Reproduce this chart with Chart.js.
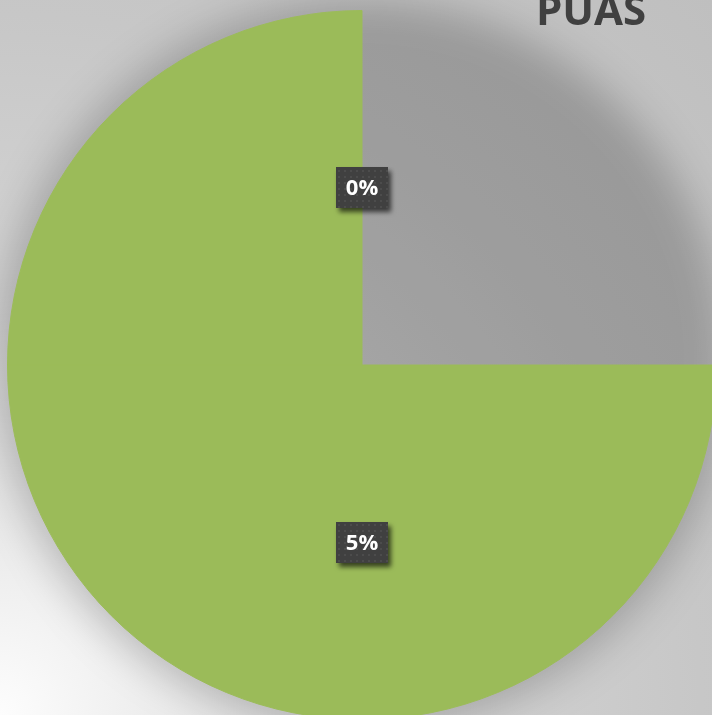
<!DOCTYPE html>
<html>
<head>
<meta charset="utf-8">
<script src="https://cdn.jsdelivr.net/npm/chart.js@4.4.1/dist/chart.umd.min.js"></script>
<style>
    html, body { margin: 0; padding: 0; width: 712px; height: 715px; overflow: hidden; }
    body {
        background: radial-gradient(circle farthest-corner at 0% 100%,
            #fdfdfd 0px, #e8e8e8 200px, #d4d4d4 420px, #c7c7c7 700px, #bfbfbf 1009px);
    }
    #wrap { position: absolute; left: 0; top: 0; width: 760px; height: 760px; }
</style>
</head>
<body>
<div id="wrap"><canvas id="puasChart"></canvas></div>
<script>
/* ###################### DATOS ###################### */
const tituloGrafico = "PUAS";
const categorias = ["Categoría 1", "Categoría 2", "Categoría 3", "Categoría 4"];
const valores = [0, 25, 50, 25];
const etiquetas = ["0%", "", "5%", ""];
const colores = ["#9bbb59", "rgba(0,0,0,0)", "#9bbb59", "#9bbb59"];

Chart.defaults.font.family = "'Open Sans', 'DejaVu Sans', sans-serif";

// patron punteado de las cajas de etiqueta
const tile = document.createElement("canvas");
tile.width = 6;
tile.height = 6;
const tctx = tile.getContext("2d");
tctx.fillStyle = "#404040";
tctx.fillRect(0, 0, 6, 6);
tctx.fillStyle = "#4c4c4c";
tctx.fillRect(2, 2, 2, 2);

// sombra difusa del pastel completo
const sombraPlugin = {
    id: "sombra",
    beforeDatasetsDraw(chart) {
        const ctx = chart.ctx;
        const meta = chart.getDatasetMeta(0);
        ctx.save();
        ctx.filter = "blur(20px)";
        ctx.fillStyle = "rgba(0,0,0,0.21)";
        ctx.beginPath();
        meta.data.forEach((arc) => {
            const p = arc.getProps(["x", "y", "startAngle", "endAngle", "outerRadius"], true);
            if (p.endAngle > p.startAngle) {
                ctx.moveTo(p.x, p.y);
                ctx.arc(p.x, p.y, p.outerRadius * 1.03, p.startAngle, p.endAngle);
                ctx.closePath();
            }
        });
        ctx.fill();
        ctx.restore();
    },
};

// etiquetas de porcentaje en cajas oscuras
const etiquetasPlugin = {
    id: "etiquetas",
    afterDatasetsDraw(chart) {
        const ctx = chart.ctx;
        const meta = chart.getDatasetMeta(0);
        const patron = ctx.createPattern(tile, "repeat");
        ctx.save();
        ctx.font = "bold 22px 'Open Sans'";
        meta.data.forEach((arc, i) => {
            const texto = etiquetas[i];
            if (!texto) return;
            const p = arc.getProps(["x", "y", "startAngle", "endAngle", "outerRadius"], true);
            const medio = (p.startAngle + p.endAngle) / 2;
            const cx = p.x + Math.cos(medio) * p.outerRadius * 0.5;
            const cy = p.y + Math.sin(medio) * p.outerRadius * 0.5;
            const w = ctx.measureText(texto).width + 20;
            const h = 41;
            ctx.save();
            ctx.shadowColor = "rgba(0,0,0,0.65)";
            ctx.shadowBlur = 5;
            ctx.shadowOffsetX = 3;
            ctx.shadowOffsetY = 4;
            ctx.fillStyle = patron;
            ctx.fillRect(Math.round(cx - w / 2), Math.round(cy - h / 2), Math.round(w), h);
            ctx.restore();
            ctx.fillStyle = "#ffffff";
            ctx.textAlign = "center";
            ctx.textBaseline = "middle";
            ctx.fillText(texto, cx, cy + 1);
        });
        ctx.restore();
    },
};

// titulo arriba a la derecha (recortado por el borde superior)
const tituloPlugin = {
    id: "titulo",
    afterDraw(chart) {
        const ctx = chart.ctx;
        ctx.save();
        ctx.font = "bold 42px 'Open Sans'";
        ctx.fillStyle = "#404040";
        ctx.textAlign = "center";
        ctx.textBaseline = "alphabetic";
        ctx.fillText(tituloGrafico, 591, 25);
        ctx.restore();
    },
};

const data = {
    labels: categorias,
    datasets: [
        {
            label: tituloGrafico,
            data: valores,
            backgroundColor: colores,
            borderColor: colores,
            borderWidth: 1,
            hoverOffset: 0,
            offset: 0,
        },
    ],
};

const config = {
    type: "pie",
    data: data,
    options: {
        responsive: true,
        maintainAspectRatio: false,
        animation: false,
        events: [],
        layout: { padding: { left: 7, top: 10, right: 43, bottom: 40 } },
        plugins: {
            legend: { display: false },
            tooltip: { enabled: false },
            title: { display: false },
        },
    },
    plugins: [sombraPlugin, etiquetasPlugin, tituloPlugin],
};

const puasChart = new Chart(document.getElementById("puasChart"), config);
</script>
</body>
</html>
